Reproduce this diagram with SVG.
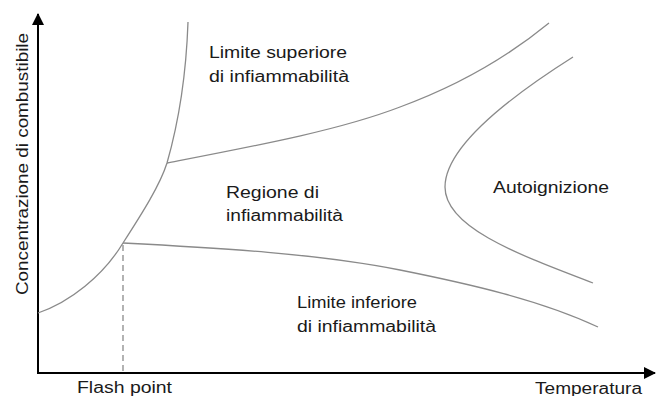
<svg xmlns="http://www.w3.org/2000/svg" width="656" height="396" viewBox="0 0 656 396">
<style>
.axis{stroke:#000;stroke-width:2;fill:none}
.curve{stroke:#8a8a8a;stroke-width:1.3;fill:none}
.dash{stroke:#8a8a8a;stroke-width:1.3;fill:none;stroke-dasharray:6,4}
text{font-family:"Liberation Sans",Arial,sans-serif;font-size:16px;fill:#1a1a1a}
</style>
<defs>
<marker id="arr" viewBox="0 0 12 12" refX="11" refY="6" markerWidth="12" markerHeight="12" markerUnits="userSpaceOnUse" orient="auto">
<path d="M0,0 L12,6 L0,12 Z" fill="#000"/>
</marker>
</defs>
<rect width="656" height="396" fill="#fff"/>
<g id="connectors">
<line class="axis" x1="38" y1="373" x2="38" y2="14" marker-end="url(#arr)"/>
<line class="axis" x1="37" y1="373" x2="655" y2="373" marker-end="url(#arr)"/>
<path class="curve" d="M38,313 C70,302 103,276 123,243 C143,212 160,185 167,163 C177,128 186,80 188,22"/>
<path class="curve" d="M167,163 C260,145 340,130 400,107 C460,85 510,55 549,23"/>
<path class="curve" d="M123,243 C220,248 320,254 400,270 C470,284 540,300 598,327"/>
<path class="curve" d="M573,57 C505,100 445,148 445,187 C445,228 520,255 593,283"/>
<line class="dash" x1="123" y1="245" x2="123" y2="372"/>
</g>
<g id="ylabel"><text transform="translate(28,295) rotate(-90)" textLength="262" lengthAdjust="spacingAndGlyphs">Concentrazione di combustibile</text></g>
<g id="sup"><text x="209" y="58" textLength="138" lengthAdjust="spacingAndGlyphs">Limite superiore</text><text x="209" y="82" textLength="140" lengthAdjust="spacingAndGlyphs">di infiammabilità</text></g>
<g id="reg"><text x="226" y="198" textLength="93" lengthAdjust="spacingAndGlyphs">Regione di</text><text x="226" y="221" textLength="117" lengthAdjust="spacingAndGlyphs">infiammabilità</text></g>
<g id="auto"><text x="493" y="193" textLength="116" lengthAdjust="spacingAndGlyphs">Autoignizione</text></g>
<g id="inf"><text x="297" y="308" textLength="120" lengthAdjust="spacingAndGlyphs">Limite inferiore</text><text x="297" y="332" textLength="139" lengthAdjust="spacingAndGlyphs">di infiammabilità</text></g>
<g id="flash"><text x="77" y="393" textLength="95" lengthAdjust="spacingAndGlyphs">Flash point</text></g>
<g id="temp"><text x="535" y="394" textLength="107" lengthAdjust="spacingAndGlyphs">Temperatura</text></g>
</svg>
